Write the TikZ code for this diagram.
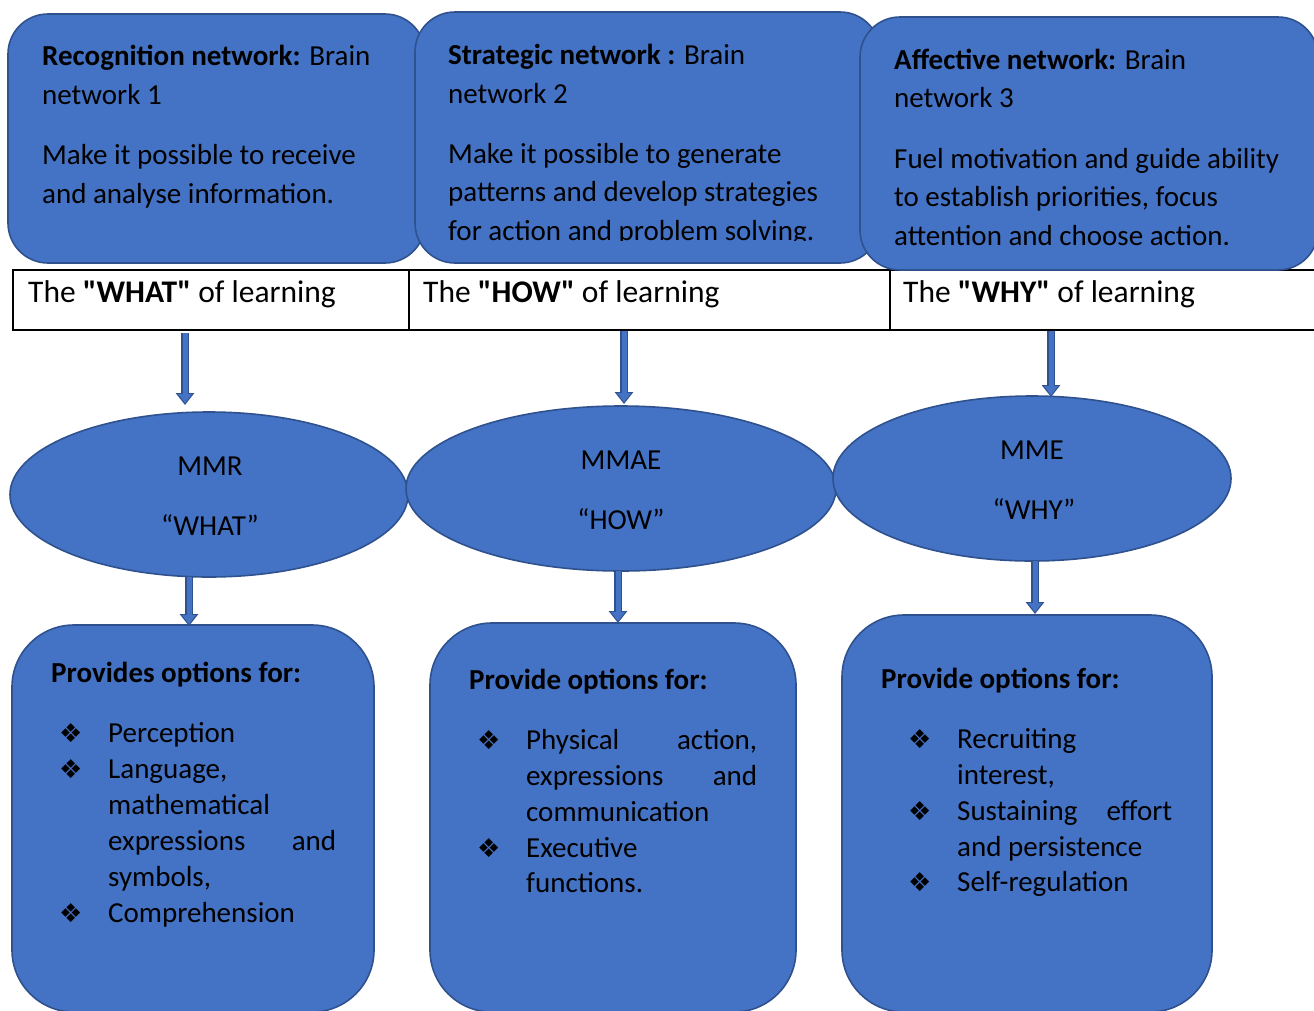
\documentclass[tikz,border=0pt]{standalone}
\usepackage{fontspec}
\setmainfont{Carlito}[Ligatures=TeXOff]
\newfontfamily\symfont{DejaVu Sans}
\usetikzlibrary{arrows.meta,shapes.geometric}
\definecolor{boxfill}{HTML}{4472C4}
\definecolor{boxline}{HTML}{2F528F}
\tikzset{
  panel/.style={draw=boxline, fill=boxfill, line width=1.6pt, inner sep=0pt},
  topbox/.style={panel, rectangle, rounded corners=40pt},
  lowbox/.style={panel, rectangle, rounded corners=62pt},
  oval/.style={panel, ellipse},
  cell/.style={draw=black, line width=1.6pt, rectangle, inner sep=0pt, anchor=north west},
  txt/.style={inner sep=0pt, anchor=base west, font=\fontsize{29}{35}\selectfont},
  ctxt/.style={txt, anchor=base},
  big/.style={txt, font=\fontsize{31.5}{38}\selectfont},
  bul/.style={inner sep=0pt, anchor=base west, font=\symfont\fontsize{26}{30}\selectfont},
  arrout/.style={draw=boxline, line width=8pt, -{Triangle[width=18pt,length=12pt]}},
  arrin/.style={draw=boxfill, line width=5pt, shorten >=1.8pt, -{Triangle[width=13pt,length=9pt]}}
}
\newcommand\blockarrow[2]{\draw[arrout] (#1) -- (#2); \draw[arrin] (#1) -- (#2);}
\begin{document}
\begin{tikzpicture}[x=1pt,y=-1pt]
\useasboundingbox (0,0) rectangle (1314,1010);
\clip (0,0) rectangle (1314,1010);
\fill[white] (0,0) rectangle (1314,1010);

% header row of the table
\node[cell, minimum width=396pt, minimum height=60pt] (c1) at (12,269) {};
\node[cell, minimum width=481pt, minimum height=60pt] (c2) at (408,269) {};
\node[cell, minimum width=440pt, minimum height=60pt] (c3) at (889,269) {};

% brain network boxes
\node[topbox, minimum width=417pt, minimum height=249pt] (n1) at (216.5,138.5) {};
\node[topbox, minimum width=465pt, minimum height=251pt] (n2) at (647.5,137.5) {};
\node[topbox, minimum width=458pt, minimum height=253pt] (n3) at (1089,143.5) {};

% principle ovals
\node[oval, minimum width=398pt, minimum height=165pt] (e1) at (209,494.5) {};
\node[oval, minimum width=430pt, minimum height=165pt] (e2) at (621,488.5) {};
\node[oval, minimum width=398pt, minimum height=165pt] (e3) at (1032,478.5) {};

% option boxes
\node[lowbox, minimum width=362pt, minimum height=387pt] (o1) at (193,818.5) {};
\node[lowbox, minimum width=366pt, minimum height=389pt] (o2) at (613,817.5) {};
\node[lowbox, minimum width=370pt, minimum height=397pt] (o3) at (1027,813.5) {};

% arrow end points
\coordinate (a1s) at (185,333); \coordinate (a1e) at (185,405);
\coordinate (a2s) at (624,331); \coordinate (a2e) at (624,404);
\coordinate (a3s) at (1051,331); \coordinate (a3e) at (1051,397);
\coordinate (b1s) at (189,577); \coordinate (b1e) at (189,626);
\coordinate (b2s) at (618,571); \coordinate (b2e) at (618,623);
\coordinate (b3s) at (1035,561); \coordinate (b3e) at (1035,614);
\blockarrow{a1s}{a1e}
\blockarrow{a2s}{a2e}
\blockarrow{a3s}{a3e}
\blockarrow{b1s}{b1e}
\blockarrow{b2s}{b2e}
\blockarrow{b3s}{b3e}

% network texts
\node[txt] (n1a) at (42,65) {\textbf{Recognition network:} Brain};
\node[txt] (n1b) at (42,104) {network 1};
\node[txt] (n1c) at (42,164) {Make it possible to receive};
\node[txt] (n1d) at (42,203) {and analyse information.};

\begin{scope}
\clip (415,0) rectangle (880,240.5);
\node[txt] (n2a) at (448,64) {\textbf{Strategic network :} Brain};
\node[txt] (n2b) at (448,103) {network 2};
\node[txt] (n2c) at (448,163) {Make it possible to generate};
\node[txt] (n2d) at (448,201) {patterns and develop strategies};
\node[txt] (n2e) at (448,240) {for action and problem solving.};
\end{scope}

\node[txt] (n3a) at (894,69) {\textbf{Affective network:} Brain};
\node[txt] (n3b) at (894,107) {network 3};
\node[txt] (n3c) at (894,168) {Fuel motivation and guide ability};
\node[txt] (n3d) at (894,206) {to establish priorities, focus};
\node[txt] (n3e) at (894,245) {attention and choose action.};

% table texts
\node[big] (t1) at (28,302) {The \textbf{"WHAT"} of learning};
\node[big] (t2) at (423,302) {The \textbf{"HOW"} of learning};
\node[big] (t3) at (903,302) {The \textbf{"WHY"} of learning};

% oval texts
\node[ctxt] (e1a) at (210,475) {MMR};
\node[ctxt] (e1b) at (210,535) {“WHAT”};
\node[ctxt] (e2a) at (621,469) {MMAE};
\node[ctxt] (e2b) at (621,529) {“HOW”};
\node[ctxt] (e3a) at (1032,459) {MME};
\node[ctxt] (e3b) at (1034,519) {“WHY”};

% options: first box
\node[txt] (o1h) at (51,682) {\textbf{Provides options for:}};
\node[bul] (o1p1) at (59,742) {❖};
\node[bul] (o1p2) at (59,778) {❖};
\node[bul] (o1p3) at (59,922) {❖};
\node[txt] (o1a) at (108,742) {Perception};
\node[txt] (o1b) at (108,778) {Language,};
\node[txt] (o1c) at (108,814) {mathematical};
\node[txt] (o1d) at (108,850) {\hbox to 228pt{expressions\hfill and}};
\node[txt] (o1e) at (108,886) {symbols,};
\node[txt] (o1f) at (108,922) {Comprehension};

% options: second box
\node[txt] (o2h) at (469,689) {\textbf{Provide options for:}};
\node[bul] (o2p1) at (477,749) {❖};
\node[bul] (o2p2) at (477,857) {❖};
\node[txt] (o2a) at (526,749) {\hbox to 231pt{Physical\hfill action,}};
\node[txt] (o2b) at (526,785) {\hbox to 231pt{expressions\hfill and}};
\node[txt] (o2c) at (526,821) {communication};
\node[txt] (o2d) at (526,857) {Executive};
\node[txt] (o2e) at (526,892) {functions.};

% options: third box
\node[txt] (o3h) at (881,688) {\textbf{Provide options for:}};
\node[bul] (o3p1) at (908,748) {❖};
\node[bul] (o3p2) at (908,820) {❖};
\node[bul] (o3p3) at (908,891) {❖};
\node[txt] (o3a) at (957,748) {Recruiting};
\node[txt] (o3b) at (957,784) {interest,};
\node[txt] (o3c) at (957,820) {\hbox to 215pt{Sustaining\hfill effort}};
\node[txt] (o3d) at (957,856) {and persistence};
\node[txt] (o3e) at (957,891) {Self-regulation};
\end{tikzpicture}
\end{document}
